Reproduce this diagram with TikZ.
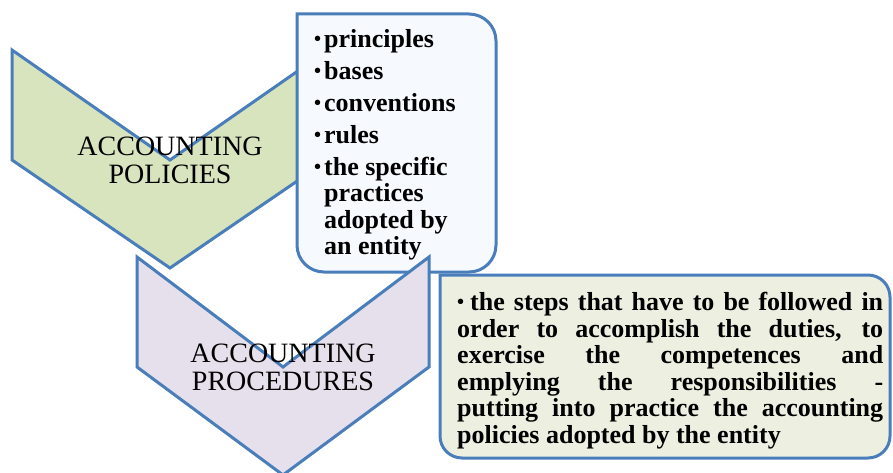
\documentclass[tikz,border=0pt]{standalone}
\usepackage{fontspec}
\setmainfont{Liberation Serif}
\definecolor{edgeblue}{HTML}{4A7EBB}
\definecolor{policyfill}{HTML}{D7E4BD}
\definecolor{procfill}{HTML}{E5E0EC}
\definecolor{listfill}{HTML}{F6F9FD}
\definecolor{notefill}{HTML}{EDF0E1}
% chevron: top left corner, then half width
\def\chevron[#1](#2,#3)(#4){\draw[#1] (#2,#3) -- ++(#4,110) -- ++(#4,-110) -- ++(0,110) -- ++(-#4,108) -- ++(-#4,-108) -- cycle;}
\newcommand\itemdot[1][10pt]{\makebox[#1][l]{\raisebox{2pt}{\fontsize{20}{20}\selectfont\textbullet}}}

\begin{document}
\begin{tikzpicture}[x=1pt, y=-1pt,
	shapeline/.style={draw=edgeblue, line width=3pt, line join=miter},
	chevtext/.style={align=center, inner sep=0pt, font=\fontsize{28}{28}\selectfont},
	listtext/.style={align=left, inner sep=0pt, font=\fontsize{26}{26.5}\selectfont\bfseries}]
			\useasboundingbox (0,0) rectangle (893,473);
			%%%%% POLICIES %%%%%
			\chevron[shapeline, fill=policyfill](12,50)(158)
			\node[chevtext] (policies) at (170,160) {ACCOUNTING\\POLICIES};
			
			\draw[shapeline, fill=listfill] (297,14) [rounded corners=27pt] -- (496,14) -- (496,272) -- (297,272) [sharp corners] -- cycle;
			\node[listtext, anchor=north west] (policylist) at (314,29) {\itemdot principles\\[5.5pt]
				\itemdot bases\\[5.5pt]
				\itemdot conventions\\[5.5pt]
				\itemdot rules\\[5.5pt]
				\itemdot the specific\\
				\hspace*{10pt}practices\\
				\hspace*{10pt}adopted by\\
				\hspace*{10pt}an entity};
			
			%%%%% PROCEDURES %%%%%
			\chevron[shapeline, fill=procfill](137,257)(146)
			\node[chevtext] (procedures) at (283,367) {ACCOUNTING\\PROCEDURES};
			
			\draw[shapeline, fill=notefill] (440,275) [rounded corners=22pt] -- (890,275) -- (890,458) -- (440,458) [sharp corners] -- cycle;
			\node[listtext, text width=426pt, align=justify, anchor=north west] (steps) at (457,292) {\noindent\hangindent=13pt\hangafter=1
				\itemdot[13pt]the steps that have to be followed in\linebreak
				order to accomplish the duties, to\linebreak
				exercise the competences and\linebreak
				emplying the responsibilities -\linebreak
				putting into practice the accounting\linebreak
				policies adopted by the entity};
			%%%%% END %%%%%
		\end{tikzpicture}
\end{document}
